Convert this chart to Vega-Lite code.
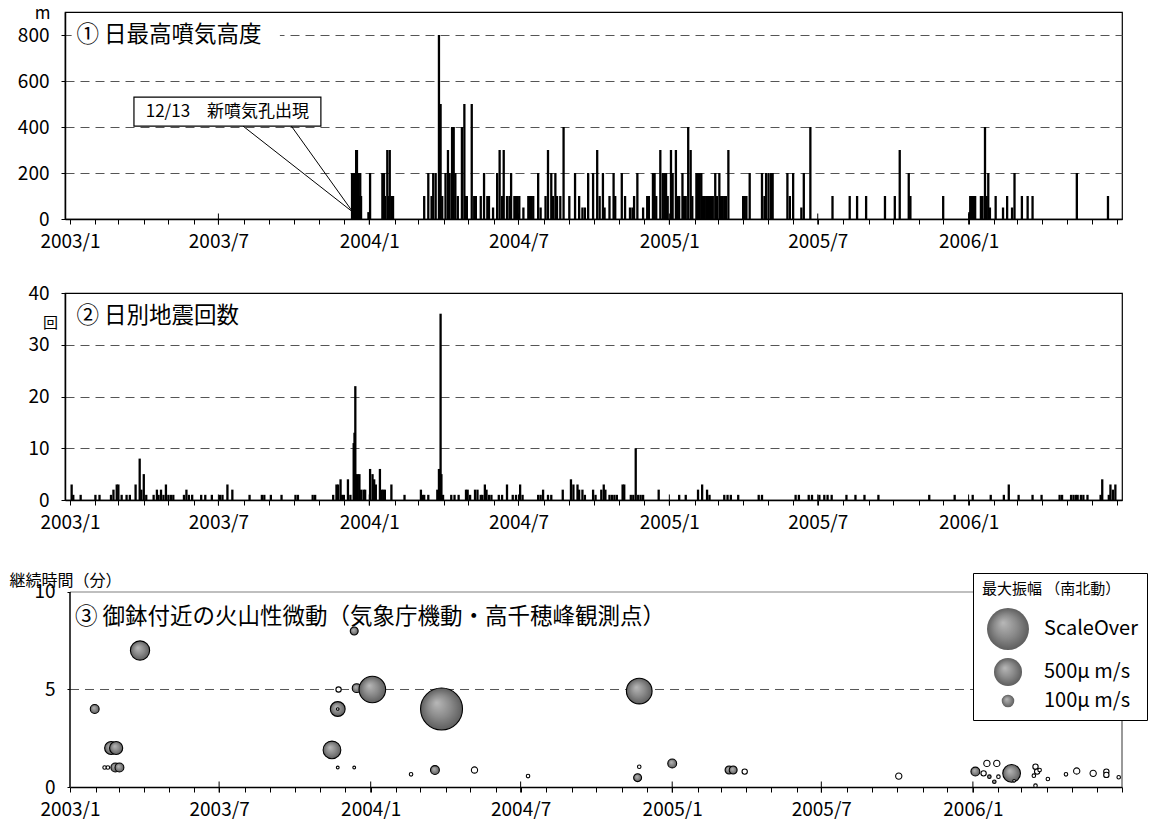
{
  "$schema": "https://vega.github.io/schema/vega-lite/v6.json",
  "padding": {"left": 9, "top": 3, "right": 0, "bottom": 0},
  "config": {
    "font": "Noto Sans CJK JP",
    "view": {"stroke": "black", "strokeWidth": 1.2},
    "axis": {"domainColor": "black", "domainWidth": 1.5, "tickColor": "black", "tickWidth": 1, "labelColor": "black", "labelFont": "Noto Sans CJK JP", "labelFontSize": 19, "titleColor": "black", "titleFont": "Noto Sans CJK JP", "titleFontWeight": "normal", "gridColor": "#555555", "gridDash": [9, 6], "gridWidth": 1, "gridOpacity": 1},
    "text": {"font": "Noto Sans CJK JP", "color": "black"}
  },
  "datasets": {
    "halfyears": [{"date": "2003-07-01"}, {"date": "2004-01-01"}, {"date": "2004-07-01"}, {"date": "2005-01-01"}, {"date": "2005-07-01"}, {"date": "2006-01-01"}],
    "plume": [
      {"date": "2003-12-11", "h": 200}, {"date": "2003-12-12", "h": 200}, {"date": "2003-12-13", "h": 200}, {"date": "2003-12-14", "h": 200}, {"date": "2003-12-15", "h": 200}, {"date": "2003-12-16", "h": 300}, {"date": "2003-12-17", "h": 300}, {"date": "2003-12-18", "h": 200}, {"date": "2003-12-19", "h": 200}, {"date": "2003-12-20", "h": 100}, {"date": "2003-12-21", "h": 200}, {"date": "2003-12-22", "h": 100}, {"date": "2003-12-31", "h": 30},
      {"date": "2004-01-02", "h": 200}, {"date": "2004-01-17", "h": 200}, {"date": "2004-01-19", "h": 200}, {"date": "2004-01-20", "h": 100}, {"date": "2004-01-23", "h": 300}, {"date": "2004-01-25", "h": 100}, {"date": "2004-01-26", "h": 300}, {"date": "2004-01-28", "h": 100}, {"date": "2004-01-30", "h": 100},
      {"date": "2004-03-08", "h": 100}, {"date": "2004-03-13", "h": 200}, {"date": "2004-03-17", "h": 100}, {"date": "2004-03-19", "h": 200}, {"date": "2004-03-22", "h": 200}, {"date": "2004-03-26", "h": 800}, {"date": "2004-03-28", "h": 500}, {"date": "2004-03-30", "h": 100},
      {"date": "2004-04-03", "h": 200}, {"date": "2004-04-06", "h": 300}, {"date": "2004-04-08", "h": 200}, {"date": "2004-04-11", "h": 400}, {"date": "2004-04-13", "h": 400}, {"date": "2004-04-15", "h": 200}, {"date": "2004-04-18", "h": 100}, {"date": "2004-04-23", "h": 400}, {"date": "2004-04-26", "h": 500}, {"date": "2004-04-27", "h": 100}, {"date": "2004-04-29", "h": 100},
      {"date": "2004-05-05", "h": 500}, {"date": "2004-05-08", "h": 100}, {"date": "2004-05-10", "h": 100}, {"date": "2004-05-16", "h": 100}, {"date": "2004-05-20", "h": 200}, {"date": "2004-05-24", "h": 100}, {"date": "2004-05-26", "h": 100}, {"date": "2004-05-31", "h": 50},
      {"date": "2004-06-05", "h": 200}, {"date": "2004-06-08", "h": 300}, {"date": "2004-06-11", "h": 100}, {"date": "2004-06-13", "h": 300}, {"date": "2004-06-17", "h": 100}, {"date": "2004-06-20", "h": 100}, {"date": "2004-06-22", "h": 200}, {"date": "2004-06-26", "h": 100}, {"date": "2004-06-28", "h": 100}, {"date": "2004-06-30", "h": 100},
      {"date": "2004-07-02", "h": 100}, {"date": "2004-07-07", "h": 50}, {"date": "2004-07-13", "h": 100}, {"date": "2004-07-15", "h": 100}, {"date": "2004-07-17", "h": 100}, {"date": "2004-07-19", "h": 100}, {"date": "2004-07-25", "h": 200}, {"date": "2004-07-28", "h": 50},
      {"date": "2004-08-03", "h": 100}, {"date": "2004-08-06", "h": 300}, {"date": "2004-08-10", "h": 200}, {"date": "2004-08-12", "h": 100}, {"date": "2004-08-15", "h": 200}, {"date": "2004-08-17", "h": 100}, {"date": "2004-08-21", "h": 100}, {"date": "2004-08-25", "h": 400},
      {"date": "2004-09-01", "h": 100}, {"date": "2004-09-08", "h": 200}, {"date": "2004-09-13", "h": 100}, {"date": "2004-09-17", "h": 50}, {"date": "2004-09-20", "h": 50}, {"date": "2004-09-24", "h": 200}, {"date": "2004-09-30", "h": 200},
      {"date": "2004-10-05", "h": 300}, {"date": "2004-10-08", "h": 100}, {"date": "2004-10-12", "h": 200}, {"date": "2004-10-14", "h": 50}, {"date": "2004-10-20", "h": 100}, {"date": "2004-10-25", "h": 200}, {"date": "2004-10-27", "h": 100},
      {"date": "2004-11-04", "h": 200}, {"date": "2004-11-08", "h": 100}, {"date": "2004-11-14", "h": 50}, {"date": "2004-11-17", "h": 50}, {"date": "2004-11-19", "h": 100}, {"date": "2004-11-23", "h": 200}, {"date": "2004-11-30", "h": 50},
      {"date": "2004-12-05", "h": 100}, {"date": "2004-12-07", "h": 100}, {"date": "2004-12-12", "h": 200}, {"date": "2004-12-14", "h": 200}, {"date": "2004-12-16", "h": 100}, {"date": "2004-12-21", "h": 300}, {"date": "2004-12-24", "h": 200}, {"date": "2004-12-26", "h": 200}, {"date": "2004-12-28", "h": 200}, {"date": "2004-12-30", "h": 100},
      {"date": "2005-01-03", "h": 300}, {"date": "2005-01-05", "h": 200}, {"date": "2005-01-09", "h": 300}, {"date": "2005-01-11", "h": 100}, {"date": "2005-01-13", "h": 100}, {"date": "2005-01-17", "h": 200}, {"date": "2005-01-19", "h": 100}, {"date": "2005-01-21", "h": 100}, {"date": "2005-01-24", "h": 400}, {"date": "2005-01-27", "h": 300}, {"date": "2005-01-29", "h": 100},
      {"date": "2005-02-03", "h": 200}, {"date": "2005-02-05", "h": 200}, {"date": "2005-02-07", "h": 200}, {"date": "2005-02-09", "h": 200}, {"date": "2005-02-11", "h": 100}, {"date": "2005-02-13", "h": 100}, {"date": "2005-02-15", "h": 100}, {"date": "2005-02-17", "h": 100}, {"date": "2005-02-19", "h": 100}, {"date": "2005-02-21", "h": 100}, {"date": "2005-02-23", "h": 100}, {"date": "2005-02-26", "h": 200}, {"date": "2005-02-28", "h": 100},
      {"date": "2005-03-03", "h": 200}, {"date": "2005-03-05", "h": 100}, {"date": "2005-03-07", "h": 100}, {"date": "2005-03-09", "h": 100}, {"date": "2005-03-11", "h": 100}, {"date": "2005-03-14", "h": 300},
      {"date": "2005-04-01", "h": 100}, {"date": "2005-04-03", "h": 100}, {"date": "2005-04-05", "h": 100}, {"date": "2005-04-09", "h": 200}, {"date": "2005-04-24", "h": 200}, {"date": "2005-04-27", "h": 100}, {"date": "2005-04-29", "h": 200},
      {"date": "2005-05-02", "h": 200}, {"date": "2005-05-05", "h": 200}, {"date": "2005-05-07", "h": 200}, {"date": "2005-05-25", "h": 200}, {"date": "2005-05-28", "h": 100},
      {"date": "2005-06-01", "h": 200}, {"date": "2005-06-11", "h": 50}, {"date": "2005-06-14", "h": 200}, {"date": "2005-06-22", "h": 400},
      {"date": "2005-07-19", "h": 100}, {"date": "2005-08-09", "h": 100}, {"date": "2005-08-18", "h": 100}, {"date": "2005-08-29", "h": 100}, {"date": "2005-09-21", "h": 100}, {"date": "2005-10-03", "h": 100}, {"date": "2005-10-09", "h": 300}, {"date": "2005-10-20", "h": 200}, {"date": "2005-10-22", "h": 100}, {"date": "2005-12-01", "h": 100},
      {"date": "2006-01-02", "h": 30}, {"date": "2006-01-03", "h": 100}, {"date": "2006-01-05", "h": 100}, {"date": "2006-01-07", "h": 100}, {"date": "2006-01-09", "h": 100}, {"date": "2006-01-16", "h": 100}, {"date": "2006-01-18", "h": 100}, {"date": "2006-01-21", "h": 400}, {"date": "2006-01-23", "h": 100}, {"date": "2006-01-25", "h": 200}, {"date": "2006-01-27", "h": 50},
      {"date": "2006-02-03", "h": 100}, {"date": "2006-02-12", "h": 50}, {"date": "2006-02-17", "h": 100}, {"date": "2006-02-23", "h": 50}, {"date": "2006-02-26", "h": 200},
      {"date": "2006-03-07", "h": 100}, {"date": "2006-03-14", "h": 100}, {"date": "2006-03-20", "h": 100}, {"date": "2006-05-13", "h": 200}, {"date": "2006-06-20", "h": 100}
    ],
    "quake": [
      {"date": "2003-01-03", "n": 3}, {"date": "2003-01-05", "n": 1}, {"date": "2003-01-14", "n": 1}, {"date": "2003-02-01", "n": 1}, {"date": "2003-02-06", "n": 1}, {"date": "2003-02-20", "n": 1}, {"date": "2003-02-23", "n": 2}, {"date": "2003-02-27", "n": 3}, {"date": "2003-03-01", "n": 3}, {"date": "2003-03-05", "n": 1}, {"date": "2003-03-11", "n": 1}, {"date": "2003-03-15", "n": 1}, {"date": "2003-03-22", "n": 3}, {"date": "2003-03-27", "n": 8}, {"date": "2003-03-29", "n": 2},
      {"date": "2003-04-01", "n": 5}, {"date": "2003-04-04", "n": 1}, {"date": "2003-04-13", "n": 1}, {"date": "2003-04-17", "n": 2}, {"date": "2003-04-19", "n": 1}, {"date": "2003-04-22", "n": 2}, {"date": "2003-04-25", "n": 1}, {"date": "2003-04-28", "n": 3},
      {"date": "2003-05-01", "n": 1}, {"date": "2003-05-04", "n": 1}, {"date": "2003-05-07", "n": 1}, {"date": "2003-05-20", "n": 1}, {"date": "2003-05-23", "n": 2}, {"date": "2003-05-26", "n": 1}, {"date": "2003-05-30", "n": 1},
      {"date": "2003-06-10", "n": 1}, {"date": "2003-06-15", "n": 1}, {"date": "2003-06-23", "n": 1}, {"date": "2003-07-03", "n": 1}, {"date": "2003-07-06", "n": 1}, {"date": "2003-07-12", "n": 3}, {"date": "2003-07-18", "n": 2}, {"date": "2003-08-08", "n": 1}, {"date": "2003-08-23", "n": 1}, {"date": "2003-08-26", "n": 1}, {"date": "2003-09-03", "n": 1}, {"date": "2003-09-16", "n": 1}, {"date": "2003-10-03", "n": 1}, {"date": "2003-10-06", "n": 1}, {"date": "2003-10-24", "n": 1}, {"date": "2003-10-27", "n": 1},
      {"date": "2003-11-18", "n": 1}, {"date": "2003-11-22", "n": 3}, {"date": "2003-11-24", "n": 3}, {"date": "2003-11-27", "n": 4}, {"date": "2003-11-29", "n": 1}, {"date": "2003-12-01", "n": 1}, {"date": "2003-12-06", "n": 4}, {"date": "2003-12-09", "n": 1}, {"date": "2003-12-13", "n": 11}, {"date": "2003-12-14", "n": 13}, {"date": "2003-12-15", "n": 22}, {"date": "2003-12-16", "n": 5}, {"date": "2003-12-18", "n": 5}, {"date": "2003-12-20", "n": 5}, {"date": "2003-12-22", "n": 2}, {"date": "2003-12-25", "n": 2}, {"date": "2003-12-27", "n": 2},
      {"date": "2004-01-02", "n": 6}, {"date": "2004-01-05", "n": 5}, {"date": "2004-01-07", "n": 4}, {"date": "2004-01-09", "n": 3}, {"date": "2004-01-14", "n": 6}, {"date": "2004-01-16", "n": 2}, {"date": "2004-01-18", "n": 2}, {"date": "2004-01-20", "n": 2}, {"date": "2004-01-28", "n": 3}, {"date": "2004-02-13", "n": 1},
      {"date": "2004-03-04", "n": 2}, {"date": "2004-03-06", "n": 1}, {"date": "2004-03-08", "n": 1}, {"date": "2004-03-13", "n": 1}, {"date": "2004-03-24", "n": 2}, {"date": "2004-03-26", "n": 6}, {"date": "2004-03-28", "n": 36}, {"date": "2004-03-29", "n": 5}, {"date": "2004-03-31", "n": 1},
      {"date": "2004-04-10", "n": 1}, {"date": "2004-04-14", "n": 1}, {"date": "2004-04-19", "n": 1}, {"date": "2004-04-28", "n": 2}, {"date": "2004-04-30", "n": 2}, {"date": "2004-05-03", "n": 1}, {"date": "2004-05-09", "n": 2}, {"date": "2004-05-12", "n": 2}, {"date": "2004-05-16", "n": 1}, {"date": "2004-05-18", "n": 1}, {"date": "2004-05-21", "n": 3}, {"date": "2004-05-23", "n": 2}, {"date": "2004-05-26", "n": 1}, {"date": "2004-05-29", "n": 1},
      {"date": "2004-06-07", "n": 1}, {"date": "2004-06-11", "n": 1}, {"date": "2004-06-17", "n": 3}, {"date": "2004-06-24", "n": 1}, {"date": "2004-06-28", "n": 1}, {"date": "2004-07-03", "n": 3}, {"date": "2004-07-06", "n": 1}, {"date": "2004-07-25", "n": 1}, {"date": "2004-07-28", "n": 1}, {"date": "2004-07-31", "n": 2}, {"date": "2004-08-06", "n": 1}, {"date": "2004-08-10", "n": 1}, {"date": "2004-08-24", "n": 2},
      {"date": "2004-09-03", "n": 4}, {"date": "2004-09-06", "n": 3}, {"date": "2004-09-11", "n": 3}, {"date": "2004-09-13", "n": 2}, {"date": "2004-09-17", "n": 2}, {"date": "2004-09-20", "n": 1}, {"date": "2004-09-30", "n": 2}, {"date": "2004-10-03", "n": 1}, {"date": "2004-10-10", "n": 2}, {"date": "2004-10-13", "n": 3}, {"date": "2004-10-15", "n": 2}, {"date": "2004-10-20", "n": 1}, {"date": "2004-10-23", "n": 1}, {"date": "2004-10-26", "n": 1}, {"date": "2004-10-29", "n": 1},
      {"date": "2004-11-05", "n": 3}, {"date": "2004-11-07", "n": 3}, {"date": "2004-11-15", "n": 1}, {"date": "2004-11-18", "n": 1}, {"date": "2004-11-21", "n": 10}, {"date": "2004-11-24", "n": 1}, {"date": "2004-11-27", "n": 1}, {"date": "2004-11-30", "n": 1}, {"date": "2004-12-19", "n": 2},
      {"date": "2005-01-13", "n": 1}, {"date": "2005-01-21", "n": 1}, {"date": "2005-02-05", "n": 2}, {"date": "2005-02-10", "n": 3}, {"date": "2005-02-16", "n": 2}, {"date": "2005-02-19", "n": 1}, {"date": "2005-03-09", "n": 1}, {"date": "2005-03-13", "n": 1}, {"date": "2005-03-17", "n": 1}, {"date": "2005-03-26", "n": 1}, {"date": "2005-04-20", "n": 1}, {"date": "2005-04-24", "n": 1},
      {"date": "2005-06-04", "n": 1}, {"date": "2005-06-08", "n": 1}, {"date": "2005-06-20", "n": 1}, {"date": "2005-06-24", "n": 1}, {"date": "2005-07-03", "n": 1}, {"date": "2005-07-09", "n": 1}, {"date": "2005-07-13", "n": 1}, {"date": "2005-07-18", "n": 1}, {"date": "2005-08-05", "n": 1}, {"date": "2005-08-16", "n": 1}, {"date": "2005-08-27", "n": 1}, {"date": "2005-09-13", "n": 1}, {"date": "2005-11-14", "n": 1}, {"date": "2005-12-15", "n": 1},
      {"date": "2006-01-06", "n": 1}, {"date": "2006-01-28", "n": 1}, {"date": "2006-02-13", "n": 1}, {"date": "2006-02-19", "n": 3}, {"date": "2006-03-03", "n": 1}, {"date": "2006-03-20", "n": 1}, {"date": "2006-03-31", "n": 1}, {"date": "2006-04-22", "n": 1}, {"date": "2006-04-25", "n": 1}, {"date": "2006-05-06", "n": 1}, {"date": "2006-05-09", "n": 1}, {"date": "2006-05-12", "n": 1}, {"date": "2006-05-14", "n": 1}, {"date": "2006-05-18", "n": 1}, {"date": "2006-05-21", "n": 1}, {"date": "2006-05-26", "n": 1}, {"date": "2006-06-11", "n": 1}, {"date": "2006-06-13", "n": 4}, {"date": "2006-06-21", "n": 1}, {"date": "2006-06-23", "n": 3}, {"date": "2006-06-26", "n": 2}, {"date": "2006-06-29", "n": 3}
    ],
    "tremor": [
      {"date": "2003-01-31", "dur": 4.0, "amp": 50, "kind": "filled"},
      {"date": "2003-02-20", "dur": 2.0, "amp": 110, "kind": "filled"},
      {"date": "2003-02-26", "dur": 2.0, "amp": 110, "kind": "filled"},
      {"date": "2003-02-12", "dur": 1.0, "amp": 8, "kind": "open"},
      {"date": "2003-02-16", "dur": 1.0, "amp": 8, "kind": "open"},
      {"date": "2003-02-25", "dur": 1.0, "amp": 50, "kind": "filled"},
      {"date": "2003-03-02", "dur": 1.0, "amp": 50, "kind": "filled"},
      {"date": "2003-03-27", "dur": 7.0, "amp": 235, "kind": "filled"},
      {"date": "2003-12-12", "dur": 8.0, "amp": 40, "kind": "filled"},
      {"date": "2003-11-23", "dur": 5.0, "amp": 18, "kind": "open"},
      {"date": "2003-11-22", "dur": 4.0, "amp": 140, "kind": "filled"},
      {"date": "2003-11-22", "dur": 4.0, "amp": 4, "kind": "open"},
      {"date": "2003-11-15", "dur": 1.9, "amp": 200, "kind": "filled"},
      {"date": "2003-11-22", "dur": 1.0, "amp": 5, "kind": "open"},
      {"date": "2003-12-12", "dur": 1.0, "amp": 5, "kind": "open"},
      {"date": "2003-12-15", "dur": 5.07, "amp": 50, "kind": "filled"},
      {"date": "2004-01-03", "dur": 5.0, "amp": 450, "kind": "filled"},
      {"date": "2004-02-19", "dur": 0.65, "amp": 8, "kind": "open"},
      {"date": "2004-03-19", "dur": 0.87, "amp": 50, "kind": "filled"},
      {"date": "2004-03-27", "dur": 4.0, "amp": 1120, "kind": "filled"},
      {"date": "2004-05-06", "dur": 0.87, "amp": 25, "kind": "open"},
      {"date": "2004-07-10", "dur": 0.56, "amp": 8, "kind": "open"},
      {"date": "2004-11-22", "dur": 4.92, "amp": 420, "kind": "filled"},
      {"date": "2004-11-22", "dur": 1.04, "amp": 8, "kind": "open"},
      {"date": "2004-11-20", "dur": 0.48, "amp": 40, "kind": "filled"},
      {"date": "2005-01-01", "dur": 1.21, "amp": 50, "kind": "filled"},
      {"date": "2005-03-11", "dur": 0.87, "amp": 40, "kind": "filled"},
      {"date": "2005-03-16", "dur": 0.87, "amp": 40, "kind": "filled"},
      {"date": "2005-03-30", "dur": 0.79, "amp": 18, "kind": "open"},
      {"date": "2005-10-03", "dur": 0.56, "amp": 25, "kind": "open"},
      {"date": "2006-01-04", "dur": 0.79, "amp": 50, "kind": "filled"},
      {"date": "2006-01-18", "dur": 1.21, "amp": 25, "kind": "open"},
      {"date": "2006-01-30", "dur": 1.21, "amp": 25, "kind": "open"},
      {"date": "2006-01-14", "dur": 0.70, "amp": 18, "kind": "open"},
      {"date": "2006-01-21", "dur": 0.53, "amp": 8, "kind": "filled"},
      {"date": "2006-01-27", "dur": 0.27, "amp": 8, "kind": "filled"},
      {"date": "2006-02-01", "dur": 0.53, "amp": 8, "kind": "open"},
      {"date": "2006-02-17", "dur": 0.70, "amp": 200, "kind": "filled"},
      {"date": "2006-02-20", "dur": 0.32, "amp": 4, "kind": "open"},
      {"date": "2006-03-18", "dur": 1.04, "amp": 18, "kind": "open"},
      {"date": "2006-03-20", "dur": 0.79, "amp": 18, "kind": "open"},
      {"date": "2006-03-16", "dur": 0.58, "amp": 8, "kind": "open"},
      {"date": "2006-03-18", "dur": 0.07, "amp": 8, "kind": "open"},
      {"date": "2006-03-23", "dur": 0.87, "amp": 8, "kind": "open"},
      {"date": "2006-04-02", "dur": 0.41, "amp": 8, "kind": "open"},
      {"date": "2006-04-24", "dur": 0.65, "amp": 8, "kind": "open"},
      {"date": "2006-05-07", "dur": 0.82, "amp": 25, "kind": "open"},
      {"date": "2006-05-27", "dur": 0.70, "amp": 25, "kind": "open"},
      {"date": "2006-06-12", "dur": 0.79, "amp": 18, "kind": "open"},
      {"date": "2006-06-12", "dur": 0.62, "amp": 18, "kind": "open"},
      {"date": "2006-06-27", "dur": 0.50, "amp": 8, "kind": "open"}
    ]
  },
  "vconcat": [
    {
      "width": 1057,
      "height": 207,
      "layer": [
        {
          "data": {"values": [{}]},
          "mark": {"type": "rect", "fill": "white"},
          "encoding": {
            "x": {"datum": {"year": 2003, "month": 1, "date": 3, "utc": true}, "type": "temporal", "scale": {"type": "utc"}},
            "x2": {"datum": {"year": 2003, "month": 9, "date": 14, "utc": true}},
            "y": {"datum": 760, "type": "quantitative"},
            "y2": {"datum": 845}
          }
        },
        {
          "data": {"name": "plume"},
          "mark": {"type": "bar", "color": "black", "size": 2.3},
          "encoding": {
            "x": {"field": "date", "type": "temporal",
              "scale": {"type": "utc", "nice": false, "domain": [{"year": 2003, "month": 1, "date": 1, "utc": true}, {"year": 2006, "month": 7, "date": 1, "utc": true}]},
              "axis": {"title": null, "grid": false, "tickCount": {"interval": "month", "step": 1}, "tickSize": 5, "labelPadding": 8, "labelOverlap": false, "labelFlush": false, "labelBound": false,
                "labelExpr": "utcmonth(datum.value) % 6 == 0 && datum.value < utc(2006, 6, 1) ? utcFormat(datum.value, '%Y/%-m') : ''"}},
            "y": {"field": "h", "type": "quantitative",
              "scale": {"domain": [0, 900], "nice": false},
              "axis": {"values": [0, 200, 400, 600, 800], "grid": true, "tickSize": 4, "labelPadding": 12, "title": "m", "titleAngle": 0, "titleAlign": "right", "titleBaseline": "alphabetic", "titleX": -15, "titleY": 6, "titleFontSize": 17}}
          }
        },
        {
          "data": {"values": [{}]},
          "mark": {"type": "rule", "color": "black", "strokeWidth": 1},
          "encoding": {
            "x": {"datum": {"year": 2003, "month": 7, "date": 31, "utc": true}, "type": "temporal", "scale": {"type": "utc"}},
            "x2": {"datum": {"year": 2003, "month": 12, "date": 12, "utc": true}},
            "y": {"datum": 404, "type": "quantitative"},
            "y2": {"datum": 30}
          }
        },
        {
          "data": {"values": [{}]},
          "mark": {"type": "rule", "color": "black", "strokeWidth": 1},
          "encoding": {
            "x": {"datum": {"year": 2003, "month": 9, "date": 28, "utc": true}, "type": "temporal", "scale": {"type": "utc"}},
            "x2": {"datum": {"year": 2003, "month": 12, "date": 12, "utc": true}},
            "y": {"datum": 404, "type": "quantitative"},
            "y2": {"datum": 30}
          }
        },
        {
          "data": {"values": [{}]},
          "mark": {"type": "rect", "fill": "white", "stroke": "black", "strokeWidth": 1.2},
          "encoding": {
            "x": {"datum": {"year": 2003, "month": 3, "date": 20, "utc": true}, "type": "temporal", "scale": {"type": "utc"}},
            "x2": {"datum": {"year": 2003, "month": 11, "date": 3, "utc": true}},
            "y": {"datum": 404, "type": "quantitative"},
            "y2": {"datum": 530}
          }
        },
        {
          "data": {"values": [{}]},
          "mark": {"type": "text", "fontSize": 17, "color": "black", "align": "center", "baseline": "middle"},
          "encoding": {
            "x": {"datum": {"year": 2003, "month": 7, "date": 12, "utc": true}, "type": "temporal", "scale": {"type": "utc"}},
            "y": {"datum": 467, "type": "quantitative"},
            "text": {"value": "12/13　新噴気孔出現"}
          }
        },
        {
          "data": {"values": [{}]},
          "mark": {"type": "text", "fontSize": 22.5, "color": "black", "align": "left", "baseline": "middle"},
          "encoding": {
            "x": {"datum": {"year": 2003, "month": 1, "date": 9, "utc": true}, "type": "temporal", "scale": {"type": "utc"}},
            "y": {"datum": 800, "type": "quantitative"},
            "text": {"value": "①  日最高噴気高度"}
          }
        },
        {
          "data": {"name": "halfyears"},
          "mark": {"type": "tick", "orient": "vertical", "size": 11, "thickness": 1, "color": "black", "opacity": 1},
          "encoding": {
            "x": {"field": "date", "type": "temporal", "scale": {"type": "utc"}},
            "y": {"datum": 0, "type": "quantitative"}
          }
        }
      ]
    },
    {
      "width": 1057,
      "height": 207,
      "layer": [
        {
          "data": {"name": "quake"},
          "mark": {"type": "bar", "color": "black", "size": 2.3},
          "encoding": {
            "x": {"field": "date", "type": "temporal",
              "scale": {"type": "utc", "nice": false, "domain": [{"year": 2003, "month": 1, "date": 1, "utc": true}, {"year": 2006, "month": 7, "date": 1, "utc": true}]},
              "axis": {"title": null, "grid": false, "tickCount": {"interval": "month", "step": 1}, "tickSize": 5, "labelPadding": 8, "labelOverlap": false, "labelFlush": false, "labelBound": false,
                "labelExpr": "utcmonth(datum.value) % 6 == 0 && datum.value < utc(2006, 6, 1) ? utcFormat(datum.value, '%Y/%-m') : ''"}},
            "y": {"field": "n", "type": "quantitative",
              "scale": {"domain": [0, 40], "nice": false},
              "axis": {"values": [0, 10, 20, 30, 40], "grid": true, "gridOpacity": {"condition": {"test": "datum.value == 40", "value": 0}, "value": 1}, "tickSize": 4, "labelPadding": 12, "title": "回", "titleAngle": 0, "titleAlign": "center", "titleBaseline": "middle", "titleX": -15, "titleY": 29, "titleFontSize": 15}}
          }
        },
        {
          "data": {"values": [{}]},
          "mark": {"type": "text", "fontSize": 22.5, "color": "black", "align": "left", "baseline": "middle"},
          "encoding": {
            "x": {"datum": {"year": 2003, "month": 1, "date": 9, "utc": true}, "type": "temporal", "scale": {"type": "utc"}},
            "y": {"datum": 35.6, "type": "quantitative"},
            "text": {"value": "②  日別地震回数"}
          }
        },
        {
          "data": {"name": "halfyears"},
          "mark": {"type": "tick", "orient": "vertical", "size": 11, "thickness": 1, "color": "black", "opacity": 1},
          "encoding": {
            "x": {"field": "date", "type": "temporal", "scale": {"type": "utc"}},
            "y": {"datum": 0, "type": "quantitative"}
          }
        }
      ]
    },
    {
      "width": 1057,
      "height": 213,
      "view": {"stroke": null},
      "layer": [
        {
          "data": {"values": [{}]},
          "mark": {"type": "rule", "color": "#555555", "strokeWidth": 1, "strokeDash": [9, 6]},
          "encoding": {
            "x": {"datum": {"year": 2003, "month": 1, "date": 1, "utc": true}, "type": "temporal", "scale": {"type": "utc"}},
            "x2": {"datum": {"year": 2006, "month": 7, "date": 1, "utc": true}},
            "y": {"datum": 5, "type": "quantitative"}
          }
        },
        {
          "data": {"values": [{}]},
          "mark": {"type": "rule", "color": "#808080", "strokeWidth": 1.2},
          "encoding": {
            "x": {"datum": {"year": 2003, "month": 1, "date": 1, "utc": true}, "type": "temporal", "scale": {"type": "utc"}},
            "x2": {"datum": {"year": 2006, "month": 7, "date": 1, "utc": true}},
            "y": {"datum": 10, "type": "quantitative"}
          }
        },
        {
          "data": {"values": [{}]},
          "mark": {"type": "rule", "color": "#555555", "strokeWidth": 1.2},
          "encoding": {
            "x": {"datum": {"year": 2006, "month": 7, "date": 1, "utc": true}, "type": "temporal", "scale": {"type": "utc"}},
            "y": {"datum": 0, "type": "quantitative"},
            "y2": {"datum": 10}
          }
        },
        {
          "data": {"values": [{}]},
          "mark": {"type": "rule", "color": "black", "strokeWidth": 1.5},
          "encoding": {
            "x": {"datum": {"year": 2003, "month": 1, "date": 1, "utc": true}, "type": "temporal", "scale": {"type": "utc"}},
            "y": {"datum": 0, "type": "quantitative"},
            "y2": {"datum": 10}
          }
        },
        {
          "data": {"name": "tremor"},
          "mark": {"type": "circle", "opacity": 1, "stroke": "black", "strokeWidth": 1.1},
          "encoding": {
            "x": {"field": "date", "type": "temporal",
              "scale": {"type": "utc", "nice": false, "range": [5, 1057], "domain": [{"year": 2003, "month": 1, "date": 1, "utc": true}, {"year": 2006, "month": 7, "date": 1, "utc": true}]},
              "axis": {"title": null, "grid": false, "tickCount": {"interval": "month", "step": 1}, "tickSize": 5, "labelPadding": 8, "labelOverlap": false, "labelFlush": false, "labelBound": false,
                "labelExpr": "utcmonth(datum.value) % 6 == 0 && datum.value < utc(2006, 6, 1) ? utcFormat(datum.value, '%Y/%-m') : ''"}},
            "y": {"field": "dur", "type": "quantitative",
              "scale": {"domain": [0, 10.923], "nice": false},
              "axis": {"values": [0, 5, 10], "grid": false, "domain": false, "offset": -5, "tickSize": 3, "labelPadding": 12, "title": "継続時間（分）", "titleAngle": 0, "titleAlign": "left", "titleBaseline": "middle", "titleX": -61, "titleY": 6, "titleFontSize": 16}},
            "size": {"field": "amp", "type": "quantitative",
              "scale": {"domain": [0, 1000], "range": [0, 1571]},
              "legend": {"title": "最大振幅 （南北動）", "values": [1120, 500, 100],
                "labelExpr": "datum.value > 1000 ? 'ScaleOver' : datum.value + 'μ m/s'",
                "orient": "none", "legendX": 908, "legendY": -1, "direction": "vertical", "symbolType": "circle",
                "symbolStrokeColor": "black", "symbolStrokeWidth": 1.2, "symbolOpacity": 1, "symbolOffset": 4,
                "fillColor": "white", "strokeColor": "black", "padding": 9, "cornerRadius": 0,
                "titleFontSize": 15, "titleFontWeight": "normal", "titleColor": "black", "titlePadding": 10, "titleFont": "Noto Sans CJK JP",
                "labelFontSize": 20, "labelColor": "black", "labelOffset": 14, "rowPadding": 2, "labelFont": "Noto Sans CJK JP"}},
            "fill": {"condition": {"test": "datum.kind == 'open'", "value": "white"},
              "value": {"gradient": "radial", "x1": 0.38, "y1": 0.35, "r1": 0, "x2": 0.5, "y2": 0.5, "r2": 0.5,
                "stops": [{"offset": 0, "color": "#b8b8b8"}, {"offset": 0.55, "color": "#8a8a8a"}, {"offset": 1, "color": "#5e5e5e"}]}}
          }
        },
        {
          "data": {"values": [{}]},
          "mark": {"type": "text", "fontSize": 22.5, "color": "black", "align": "left", "baseline": "middle"},
          "encoding": {
            "x": {"datum": {"year": 2003, "month": 1, "date": 7, "utc": true}, "type": "temporal", "scale": {"type": "utc"}},
            "y": {"datum": 8.72, "type": "quantitative"},
            "text": {"value": "③ 御鉢付近の火山性微動（気象庁機動・高千穂峰観測点）"}
          }
        },
        {
          "data": {"name": "halfyears"},
          "mark": {"type": "tick", "orient": "vertical", "size": 11, "thickness": 1, "color": "black", "opacity": 1},
          "encoding": {
            "x": {"field": "date", "type": "temporal", "scale": {"type": "utc"}},
            "y": {"datum": 0, "type": "quantitative"}
          }
        }
      ]
    }
  ],
  "spacing": 74,
  "bounds": "flush",
  "resolve": {"legend": {"size": "independent"}}
}
